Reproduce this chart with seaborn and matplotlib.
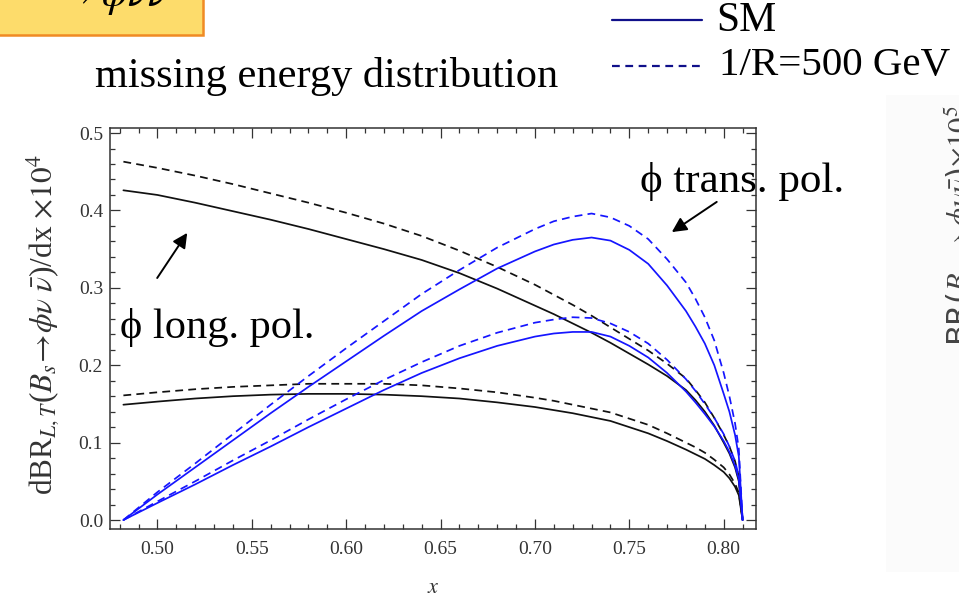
import matplotlib
matplotlib.use("Agg")
import matplotlib.pyplot as plt
from matplotlib.lines import Line2D
from matplotlib.patches import Rectangle
from matplotlib.ticker import MultipleLocator
import pandas as pd
import seaborn as sns

# missing-energy fraction x = E_miss / m_Bs
x_vals = [0.482, 0.50, 0.52, 0.54, 0.56, 0.58, 0.60, 0.62, 0.64, 0.66, 0.68,
          0.70, 0.71, 0.72, 0.73, 0.74, 0.75, 0.76, 0.77, 0.78, 0.785, 0.79,
          0.795, 0.80, 0.803, 0.806, 0.808, 0.81]

# longitudinally polarised phi (two form-factor sets), SM and 1/R = 500 GeV
long_a_sm = [0.426, 0.420, 0.410, 0.399, 0.388, 0.376, 0.363, 0.350, 0.336, 0.319, 0.299,
             0.277, 0.266, 0.254, 0.242, 0.229, 0.215, 0.201, 0.186, 0.168, 0.155, 0.140,
             0.122, 0.100, 0.086, 0.068, 0.050, 0.0]
long_a_ued = [0.463, 0.455, 0.445, 0.434, 0.422, 0.410, 0.397, 0.383, 0.367, 0.348, 0.327,
              0.304, 0.291, 0.278, 0.264, 0.249, 0.234, 0.219, 0.202, 0.183, 0.168, 0.152,
              0.132, 0.110, 0.095, 0.076, 0.056, 0.0]
long_b_sm = [0.149, 0.153, 0.157, 0.160, 0.162, 0.163, 0.163, 0.162, 0.160, 0.157, 0.152,
             0.146, 0.142, 0.138, 0.133, 0.128, 0.120, 0.112, 0.102, 0.091, 0.085, 0.079,
             0.071, 0.062, 0.054, 0.043, 0.032, 0.0]
long_b_ued = [0.161, 0.165, 0.169, 0.172, 0.174, 0.176, 0.176, 0.176, 0.174, 0.170, 0.165,
              0.158, 0.154, 0.149, 0.144, 0.139, 0.131, 0.123, 0.112, 0.100, 0.094, 0.087,
              0.078, 0.068, 0.059, 0.047, 0.035, 0.0]

# transversely polarised phi
trans_a_sm = [0.0, 0.033, 0.068, 0.103, 0.138, 0.172, 0.205, 0.238, 0.270, 0.298, 0.325,
              0.347, 0.356, 0.362, 0.365, 0.361, 0.349, 0.331, 0.303, 0.270, 0.250, 0.228,
              0.200, 0.163, 0.140, 0.110, 0.082, 0.0]
trans_a_ued = [0.0, 0.036, 0.073, 0.111, 0.149, 0.186, 0.222, 0.257, 0.292, 0.323, 0.352,
               0.376, 0.386, 0.392, 0.396, 0.391, 0.380, 0.363, 0.337, 0.307, 0.286, 0.262,
               0.232, 0.190, 0.160, 0.125, 0.092, 0.0]
trans_b_sm = [0.0, 0.022, 0.046, 0.071, 0.095, 0.120, 0.144, 0.168, 0.190, 0.209, 0.225,
              0.237, 0.241, 0.243, 0.243, 0.237, 0.225, 0.210, 0.190, 0.166, 0.152, 0.137,
              0.121, 0.102, 0.088, 0.070, 0.053, 0.0]
trans_b_ued = [0.0, 0.024, 0.050, 0.077, 0.103, 0.130, 0.156, 0.181, 0.204, 0.225, 0.242,
               0.255, 0.259, 0.262, 0.261, 0.254, 0.243, 0.228, 0.207, 0.182, 0.167, 0.150,
               0.132, 0.111, 0.095, 0.076, 0.057, 0.0]

models = ["SM", "1/R=500 GeV"]
x_ticks = [0.50, 0.55, 0.60, 0.65, 0.70, 0.75, 0.80]
y_ticks = [0.0, 0.1, 0.2, 0.3, 0.4, 0.5]

curves = {
    ("long_a", "SM"): long_a_sm, ("long_a", "1/R=500 GeV"): long_a_ued,
    ("long_b", "SM"): long_b_sm, ("long_b", "1/R=500 GeV"): long_b_ued,
    ("trans_a", "SM"): trans_a_sm, ("trans_a", "1/R=500 GeV"): trans_a_ued,
    ("trans_b", "SM"): trans_b_sm, ("trans_b", "1/R=500 GeV"): trans_b_ued,
}
rows = []
for (curve, model), ys in curves.items():
    for xv, yv in zip(x_vals, ys):
        rows.append({"x": xv, "y": yv, "curve": curve, "model": model})
df = pd.DataFrame(rows)

sns.set_theme(style="ticks")
plt.rcParams["font.family"] = ["Liberation Serif", "DejaVu Serif"]
plt.rcParams["mathtext.fontset"] = "stix"

W, H = 959, 599
fig = plt.figure(figsize=(W / 100, H / 100), dpi=100)
fig.patch.set_facecolor("white")

def fx(px):
    return px / W

def fy(py):
    return 1 - py / H

# faint neighbouring panel on the right edge
fig.add_artist(Rectangle((fx(886), fy(572)), fx(959) - fx(886), fy(95) - fy(572),
                         transform=fig.transFigure, facecolor="#fbfbfb", edgecolor="none", zorder=0))
fig.text(fx(942), fy(226), r"BR($B_s\rightarrow\phi\nu\bar{\nu}$)$\times10^5$",
         rotation=90, ha="left", va="center", fontsize=22, color="#444444",
         family=["DejaVu Sans"])

# title box in the top-left corner
fig.add_artist(Rectangle((fx(-5), fy(35)), fx(203) + 5 / W, fy(-5) - fy(35),
                         transform=fig.transFigure, facecolor="#fddc6b", edgecolor="#f08a24",
                         linewidth=1.8, zorder=1))
fig.text(fx(168), fy(6), r"$\rightarrow\phi\nu\bar{\nu}$", ha="right", va="baseline",
         fontsize=30, color="black", zorder=2)

fig.text(fx(95), fy(76), "missing energy distribution", ha="left", va="center",
         fontsize=30.5, color="black")

# legend drawn by hand at the top
leg_col = "#10108a"
fig.add_artist(Line2D([fx(612), fx(702)], [fy(20), fy(20)], transform=fig.transFigure,
                      color=leg_col, lw=1.6))
fig.add_artist(Line2D([fx(612), fx(702)], [fy(66), fy(66)], transform=fig.transFigure,
                      color=leg_col, lw=1.6, dashes=(3.5, 2.5)))
fig.text(fx(716), fy(21), "SM", ha="left", va="center", fontsize=30, color="black")
fig.text(fx(719), fy(65), "1/R=500 GeV", ha="left", va="center", fontsize=29.5, color="black")

ax = fig.add_axes([fx(110), fy(529), fx(756) - fx(110), fy(128) - fy(529)])
ax.set_facecolor("white")

palette = {"long_a": "#111111", "long_b": "#111111", "trans_a": "#1515ff", "trans_b": "#1515ff"}
sns.lineplot(data=df, x="x", y="y", hue="curve", style="model", palette=palette,
             dashes={"SM": "", "1/R=500 GeV": (4.5, 3)}, estimator=None, sort=False,
             legend=False, linewidth=1.25, ax=ax)

ax.set_xlim(0.4749, 0.8171)
ax.set_ylim(-0.0116, 0.5065)
ax.set_xticks(x_ticks)
ax.set_yticks(y_ticks)
ax.set_xticklabels([f"{t:.2f}" for t in x_ticks])
ax.set_yticklabels([f"{t:.1f}" for t in y_ticks])
ax.xaxis.set_minor_locator(MultipleLocator(0.01))
ax.yaxis.set_minor_locator(MultipleLocator(0.02))
ax.tick_params(which="both", direction="in", top=True, right=True, colors="#333333",
               labelcolor="#333333", labelsize=14, width=0.9)
ax.tick_params(which="major", length=7.5)
ax.tick_params(which="minor", length=3.5)
ax.tick_params(axis="x", pad=9)
ax.tick_params(axis="y", pad=5)
for sp in ax.spines.values():
    sp.set_visible(True)
    sp.set_color("#333333")
    sp.set_linewidth(1.1)

ax.set_xlabel(r"$x$", fontsize=16, color="#333333", va="center")
ax.xaxis.set_label_coords(0.5, -0.148)
ax.set_ylabel(r"dBR$_{L,T}$($B_s\!\rightarrow\!\phi\nu\ \bar{\nu}$)/dx $\times10^4$",
              fontsize=22.5, color="#333333")
ax.yaxis.set_label_coords(-0.074, 0.51)

# curve annotations
ax.text(0.7556, 0.437, "\u03d5 trans. pol.", ha="left", va="center", fontsize=31,
        color="black", family=["Liberation Serif", "DejaVu Serif"])
ax.annotate("", xy=(0.7725, 0.372), xytext=(0.7963, 0.411),
            arrowprops=dict(arrowstyle="-|>", color="black", lw=1.4, mutation_scale=22,
                            shrinkA=0, shrinkB=0))
ax.text(0.4803, 0.249, "\u03d5 long. pol.", ha="left", va="center", fontsize=30.5,
        color="black", family=["Liberation Serif", "DejaVu Serif"])
ax.annotate("", xy=(0.5158, 0.371), xytext=(0.4999, 0.3127),
            arrowprops=dict(arrowstyle="-|>", color="black", lw=1.4, mutation_scale=22,
                            shrinkA=0, shrinkB=0))

fig.savefig("out.png", dpi=100, facecolor="white")
